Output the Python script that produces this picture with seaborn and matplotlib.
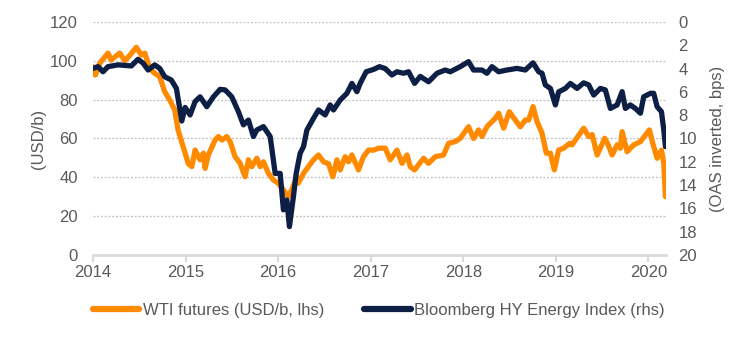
import matplotlib
matplotlib.use("Agg")
import matplotlib.pyplot as plt
import seaborn as sns
import pandas as pd
from matplotlib.lines import Line2D

# ---- data ----
wti_t = [2014.000, 2014.025, 2014.076, 2014.162, 2014.195, 2014.289, 2014.343, 2014.400,
         2014.468, 2014.522, 2014.559, 2014.613, 2014.667, 2014.721, 2014.775, 2014.829,
         2014.883, 2014.919, 2014.973, 2015.030, 2015.067, 2015.103, 2015.157, 2015.192,
         2015.211, 2015.246, 2015.319, 2015.355, 2015.392, 2015.445, 2015.481, 2015.535,
         2015.589, 2015.643, 2015.679, 2015.716, 2015.770, 2015.805, 2015.841, 2015.895,
         2015.949, 2016.003, 2016.057, 2016.111, 2016.151, 2016.202, 2016.219, 2016.274,
         2016.327, 2016.382, 2016.436, 2016.490, 2016.544, 2016.591, 2016.635, 2016.670,
         2016.724, 2016.760, 2016.797, 2016.868, 2016.922, 2016.976, 2017.030, 2017.084,
         2017.157, 2017.211, 2017.283, 2017.338, 2017.392, 2017.427, 2017.474, 2017.571,
         2017.625, 2017.697, 2017.787, 2017.841, 2017.914, 2017.968, 2018.057, 2018.111,
         2018.165, 2018.202, 2018.256, 2018.346, 2018.382, 2018.436, 2018.497, 2018.562,
         2018.616, 2018.670, 2018.706, 2018.754, 2018.797, 2018.851, 2018.897, 2018.941,
         2018.984, 2019.030, 2019.084, 2019.149, 2019.175, 2019.211, 2019.301, 2019.355,
         2019.392, 2019.446, 2019.528, 2019.565, 2019.608, 2019.662, 2019.697, 2019.716,
         2019.770, 2019.841, 2019.914, 2019.968, 2020.011, 2020.047, 2020.094, 2020.141,
         2020.166, 2020.184]
wti = [97, 92.7, 99, 104, 100.4, 104, 100, 103,
       107, 103, 104, 96, 93.6, 91.8, 84.1, 79.8,
       74.7, 64.4, 55.8, 47, 45.5, 54, 49, 52.4,
       44.6, 51.5, 59.2, 61, 59.2, 61, 58.4, 50.6,
       47.2, 40.3, 49, 45.5, 49.8, 45.5, 48, 42,
       38.6, 36.9, 33.5, 30, 34, 40.3, 37, 42,
       45.5, 49, 51.5, 48, 47, 40.3, 49, 43.8,
       50.6, 48, 51.5, 43.8, 50.6, 54, 54, 55,
       55, 49, 54, 47.2, 51.5, 45.5, 43.8, 49.8,
       47.2, 50.6, 51.5, 57.5, 58.4, 60.1, 66.1, 60,
       64.4, 61, 66.1, 70.4, 73, 65.3, 73.8, 69.5,
       66, 69.5, 69.5, 76.4, 68.7, 62.7, 52.4, 52.4,
       43.8, 54, 55, 57.5, 56.7, 59.2, 65.3, 61,
       62, 51.5, 60.1, 56.7, 51.5, 56.7, 55, 63.5,
       53.2, 56.7, 58.4, 61.8, 64.4, 57.5, 49.8, 54,
       47.2, 30]

hy_t = [2014.000, 2014.054, 2014.108, 2014.162, 2014.270, 2014.414, 2014.486, 2014.541,
        2014.595, 2014.667, 2014.721, 2014.775, 2014.846, 2014.901, 2014.959, 2014.995,
        2015.049, 2015.103, 2015.157, 2015.229, 2015.301, 2015.373, 2015.427, 2015.499,
        2015.571, 2015.625, 2015.679, 2015.733, 2015.770, 2015.841, 2015.914, 2015.968,
        2016.022, 2016.057, 2016.094, 2016.122, 2016.165, 2016.195, 2016.238, 2016.274,
        2016.311, 2016.382, 2016.436, 2016.508, 2016.562, 2016.598, 2016.670, 2016.743,
        2016.797, 2016.851, 2016.886, 2016.951, 2017.030, 2017.095, 2017.157, 2017.229,
        2017.283, 2017.355, 2017.409, 2017.474, 2017.535, 2017.625, 2017.716, 2017.805,
        2017.859, 2017.968, 2018.057, 2018.111, 2018.202, 2018.256, 2018.310, 2018.382,
        2018.472, 2018.581, 2018.670, 2018.754, 2018.814, 2018.851, 2018.886, 2018.941,
        2018.995, 2019.030, 2019.103, 2019.157, 2019.229, 2019.301, 2019.355, 2019.409,
        2019.481, 2019.535, 2019.589, 2019.662, 2019.716, 2019.751, 2019.805, 2019.859,
        2019.914, 2019.949, 2020.022, 2020.057, 2020.094, 2020.141, 2020.166, 2020.184]
hy_oas = [3.98, 3.83, 4.27, 3.83, 3.68, 3.77, 3.20, 3.53,
          4.12, 3.68, 3.98, 4.70, 4.98, 5.70, 8.50, 7.33,
          7.98, 6.83, 6.42, 7.27, 6.42, 5.78, 5.83, 6.42,
          7.70, 8.83, 8.42, 9.83, 9.27, 8.98, 9.83, 13.0,
          13.0, 16.13, 15.28, 17.57, 15.0, 13.0, 11.27, 10.70,
          9.27, 8.27, 7.55, 7.98, 7.12, 7.55, 6.70, 6.12,
          5.27, 5.98, 5.27, 4.27, 4.07, 3.83, 4.00, 4.55,
          4.27, 4.40, 4.27, 5.27, 4.67, 5.13, 4.40, 4.12,
          4.27, 3.83, 3.40, 4.12, 4.12, 4.40, 3.83, 4.27,
          4.12, 3.98, 4.12, 3.50, 4.27, 4.40, 5.40, 5.70,
          7.12, 6.00, 5.70, 5.27, 5.70, 5.22, 5.40, 6.27,
          5.70, 5.83, 7.42, 7.12, 5.98, 7.42, 7.12, 7.42,
          7.83, 6.42, 6.12, 6.12, 7.27, 7.70, 9.27, 10.70]

year_ticks = [2014, 2015, 2016, 2017, 2018, 2019, 2020]
left_ticks = [0, 20, 40, 60, 80, 100, 120]
right_ticks = [0, 2, 4, 6, 8, 10, 12, 14, 16, 18, 20]

wti_label = "WTI futures (USD/b, lhs)"
hy_label = "Bloomberg HY Energy Index (rhs)"

df_wti = pd.DataFrame({"t": wti_t, "v": wti})
df_hy = pd.DataFrame({"t": hy_t, "v": hy_oas})

# ---- style ----
sns.set_theme(style="white")
plt.rcParams["font.family"] = ["Liberation Sans", "DejaVu Sans"]
txt = "#595959"
orange = "#FF8A00"
navy = "#0E1F45"
fs = 12

fig = plt.figure(figsize=(7.5, 3.39), dpi=100)
ax = fig.add_axes([0.124, 0.248, 0.764, 0.687])
ax2 = ax.twinx()

sns.lineplot(data=df_wti, x="t", y="v", ax=ax, color=orange, linewidth=3.8,
             estimator=None, sort=False, legend=False)
sns.lineplot(data=df_hy, x="t", y="v", ax=ax2, color=navy, linewidth=3.8,
             estimator=None, sort=False, legend=False)

ax.set_xlim(2014, 2020.19)
ax.set_ylim(0, 120)
ax2.set_ylim(20, 0)
ax.set_xticks(year_ticks)
ax.set_xticklabels([str(y) for y in year_ticks])
ax.set_yticks(left_ticks)
ax2.set_yticks(right_ticks)

ax.grid(axis="y", color="#BFBFBF", linestyle=(0, (1.5, 1.5)), linewidth=0.9)
ax.grid(axis="x", visible=False)
ax2.grid(False)

for a in (ax, ax2):
    for s in ("top", "left", "right", "bottom"):
        a.spines[s].set_visible(False)
ax.spines["bottom"].set_visible(True)
ax.spines["bottom"].set_color("#D9D9D9")
ax.spines["bottom"].set_linewidth(2)

ax.tick_params(axis="x", colors="#D9D9D9", length=5, width=1.5, direction="out",
               labelcolor=txt, labelsize=fs, pad=2, bottom=True)
ax.tick_params(axis="y", length=0, labelcolor=txt, labelsize=fs, pad=11)
ax2.tick_params(axis="y", length=0, labelcolor=txt, labelsize=fs, pad=9)

ax.set_xlabel("")
ax.set_ylabel("(USD/b)", color=txt, fontsize=fs, labelpad=3)
ax2.set_ylabel("(OAS inverted, bps)", color=txt, fontsize=fs, rotation=90, labelpad=9)

handles = [Line2D([0], [0], color=orange, linewidth=4.5),
           Line2D([0], [0], color=navy, linewidth=4.5)]
leg = fig.legend(handles, [wti_label, hy_label], loc="center", bbox_to_anchor=(0.505, 0.085),
                 ncol=2, frameon=False, fontsize=fs, handlelength=2.8, handletextpad=0.2,
                 columnspacing=2.4)
for t in leg.get_texts():
    t.set_color(txt)

fig.savefig("out.png", dpi=100)
